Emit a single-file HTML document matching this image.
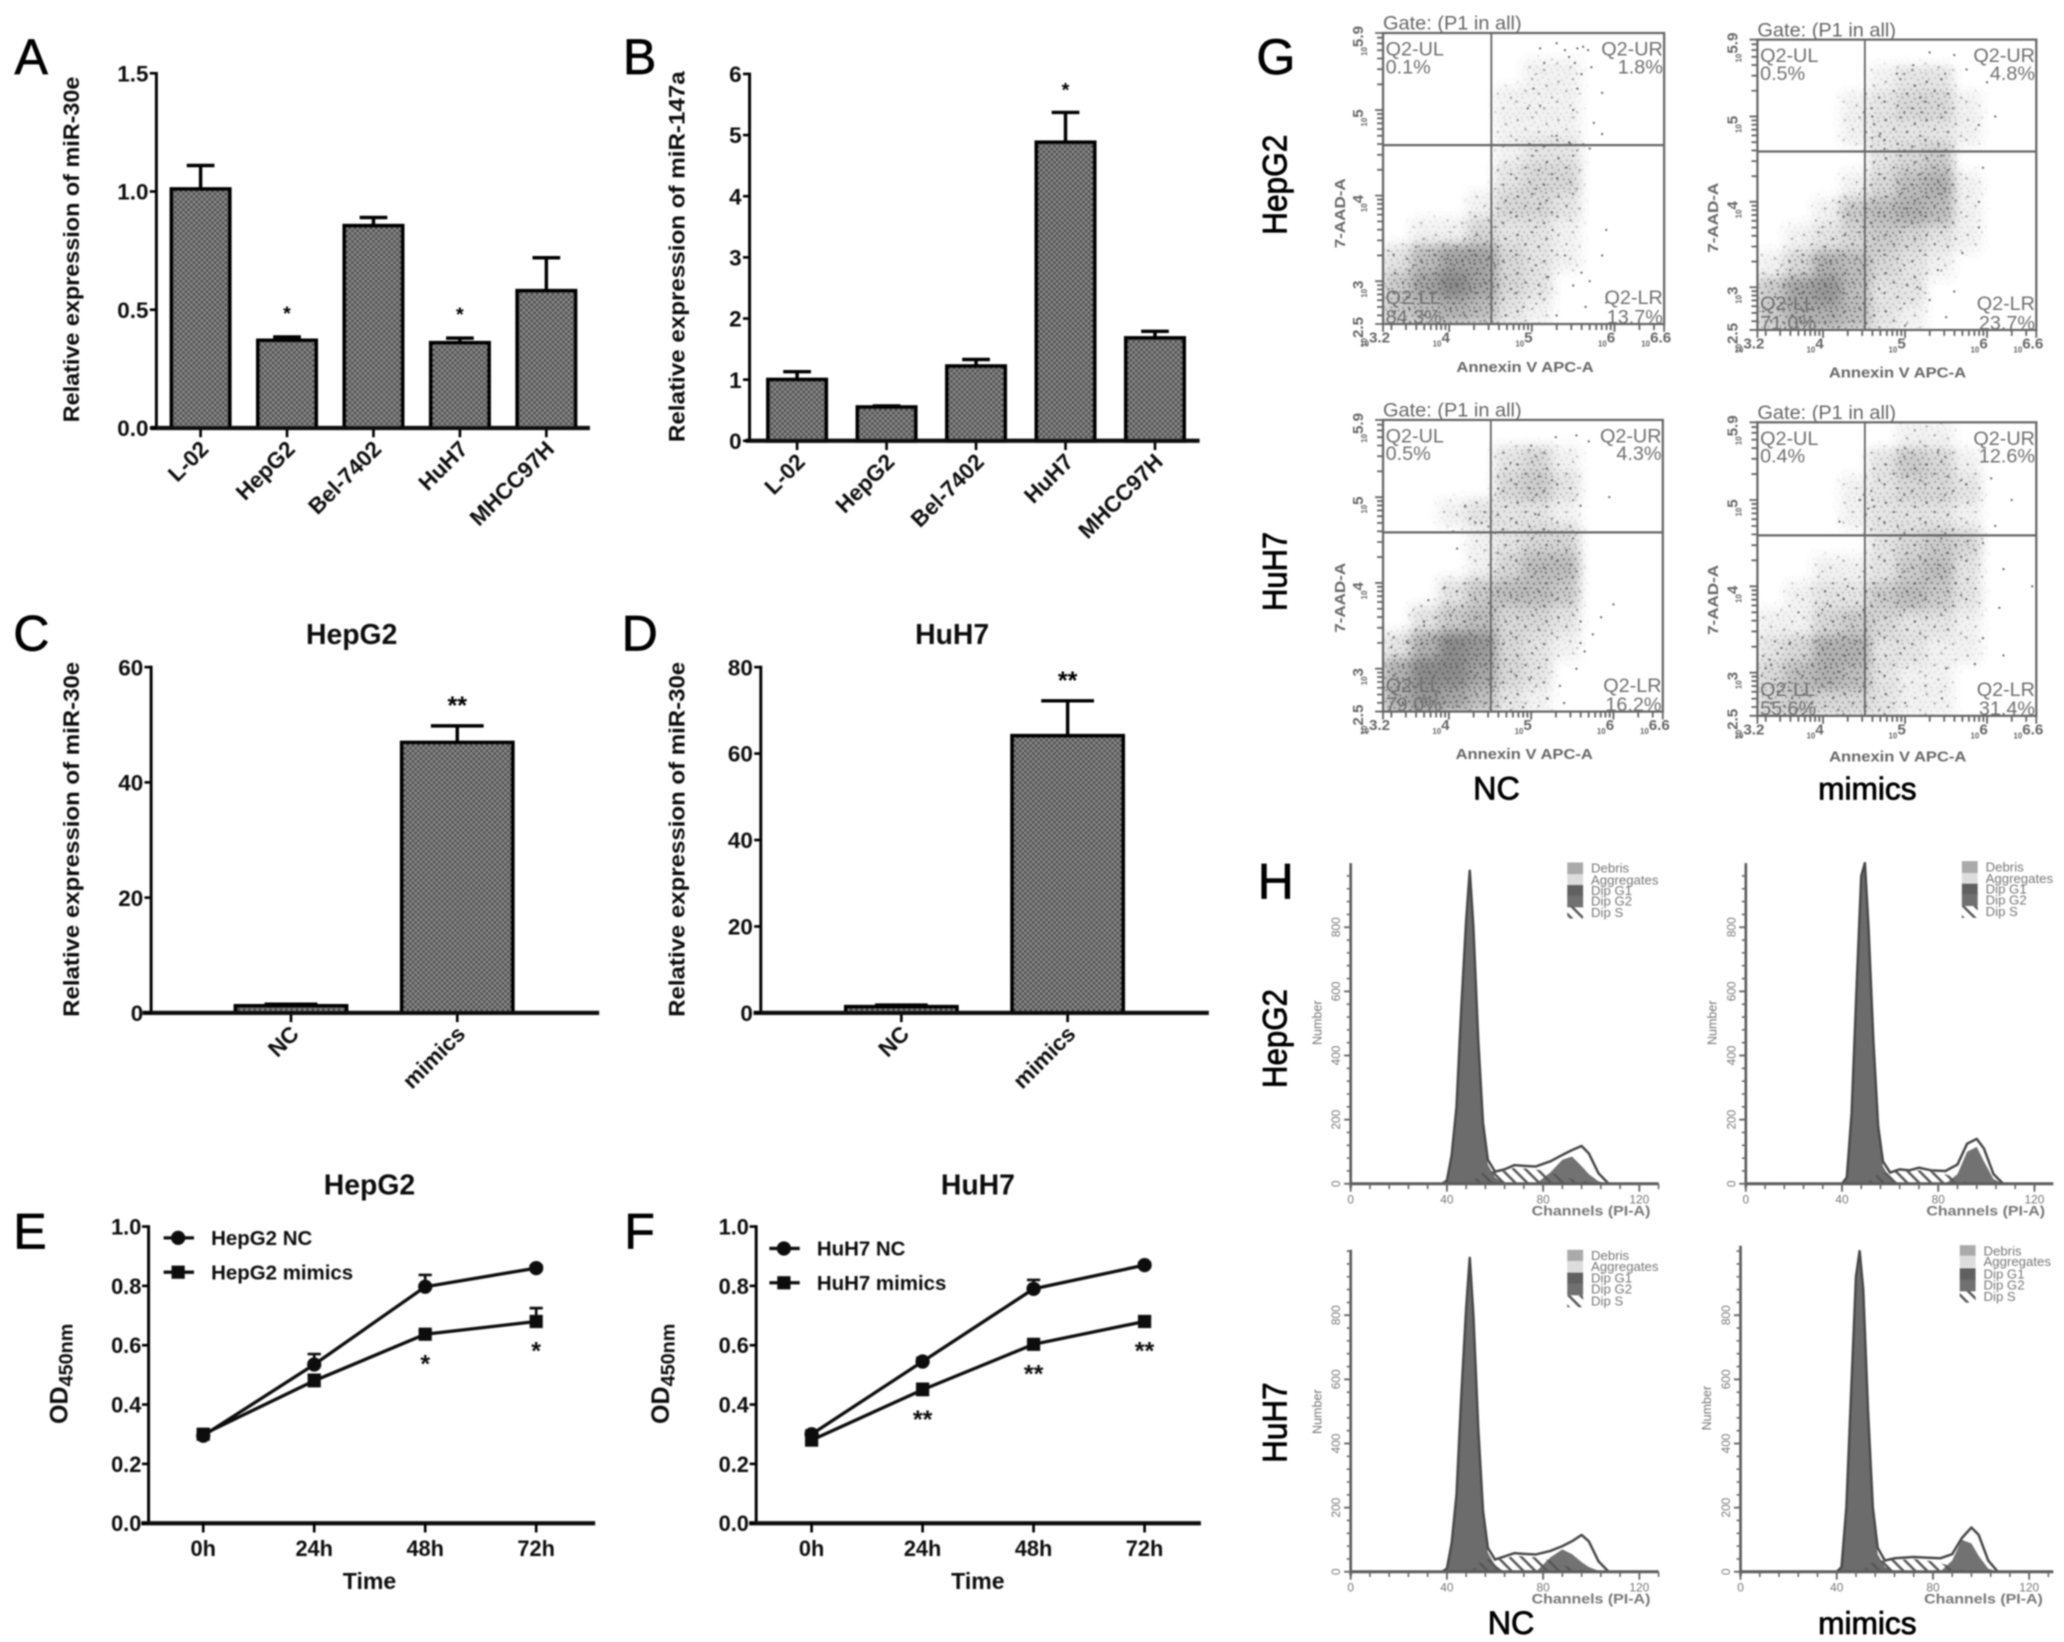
<!DOCTYPE html>
<html lang="en">
<head>
<meta charset="utf-8">
<title>miR-30e figure panels A-H</title>
<style>
html,body{margin:0;padding:0;background:#fff;width:2064px;height:1642px;overflow:hidden}
svg{display:block;font-family:"Liberation Sans",Arial,sans-serif}
</style>
</head>
<body>
<svg id="figure" xmlns="http://www.w3.org/2000/svg" width="2064" height="1642" viewBox="0 0 1564 1244.2">
<defs>
<filter id="soft" filterUnits="userSpaceOnUse" x="0" y="0" width="1564" height="1245"><feGaussianBlur stdDeviation="0.55"/></filter>
<filter id="densityBlur" filterUnits="userSpaceOnUse" x="900" y="0" width="700" height="640"><feGaussianBlur stdDeviation="4"/></filter>
<pattern id="barFill" width="4" height="4" patternUnits="userSpaceOnUse">
<rect width="4" height="4" fill="#8a8a8a"/>
<rect width="2" height="2" fill="#4e4e4e"/>
<rect x="2" y="2" width="2" height="2" fill="#4e4e4e"/>
</pattern>
<pattern id="speckle" width="18" height="18" patternUnits="userSpaceOnUse">
<g fill="#5f5f5f">
<circle cx="1.5" cy="2" r=".85"/><circle cx="6.2" cy="1" r=".8"/><circle cx="11" cy="2.8" r=".85"/><circle cx="15.8" cy="1.2" r=".8"/>
<circle cx="3.6" cy="6" r=".85"/><circle cx="8.4" cy="5.2" r=".8"/><circle cx="13.4" cy="6.6" r=".85"/><circle cx="17" cy="5" r=".8"/>
<circle cx="1" cy="10" r=".8"/><circle cx="5.8" cy="9.6" r=".85"/><circle cx="10.4" cy="10.4" r=".8"/><circle cx="15" cy="9.8" r=".85"/>
<circle cx="3" cy="14" r=".85"/><circle cx="8" cy="13.6" r=".8"/><circle cx="12.6" cy="14.4" r=".85"/><circle cx="17.2" cy="13.4" r=".8"/>
<circle cx="5.4" cy="16.8" r=".8"/><circle cx="10.2" cy="17" r=".85"/><circle cx="14.8" cy="16.6" r=".8"/><circle cx="1.2" cy="17.2" r=".8"/>
</g>
</pattern>
<pattern id="speckleSparse" width="31" height="29" patternUnits="userSpaceOnUse">
<g fill="#6a6a6a">
<circle cx="3" cy="4" r=".95"/><circle cx="14" cy="2" r=".9"/><circle cx="25" cy="7" r=".95"/>
<circle cx="9" cy="11" r=".9"/><circle cx="19" cy="13" r=".95"/><circle cx="29" cy="16" r=".9"/>
<circle cx="2" cy="19" r=".95"/><circle cx="12" cy="22" r=".9"/><circle cx="23" cy="24" r=".95"/><circle cx="17" cy="27" r=".85"/>
</g>
</pattern>
<pattern id="hatch" width="9" height="9" patternUnits="userSpaceOnUse">
<path d="M-1,-1 L10,10 M-1,8 L1,10 M8,-1 L10,1" stroke="#555" stroke-width="1.9" fill="none"/>
</pattern>
</defs>
<rect x="0" y="0" width="1564" height="1245" fill="#fff"/>
<g id="root" filter="url(#soft)">
<g font-size="38" fill="#000" stroke="#000" stroke-width=".5">
<text x="11" y="56">A</text>
<text x="472" y="56">B</text>
<text x="10" y="493">C</text>
<text x="471" y="493">D</text>
<text x="10" y="946">E</text>
<text x="473" y="946">F</text>
<text x="952" y="56">G</text>
<text x="953" y="681">H</text>
</g>
<g font-size="26" fill="#000" text-anchor="middle" stroke="#000" stroke-width=".6">
<text transform="translate(975,140) rotate(-90)" textLength="76" lengthAdjust="spacingAndGlyphs">HepG2</text>
<text transform="translate(975,433) rotate(-90)" textLength="60" lengthAdjust="spacingAndGlyphs">HuH7</text>
<text x="1134" y="606" font-size="24.5">NC</text>
<text x="1415" y="606" font-size="24">mimics</text>
<text transform="translate(975,787) rotate(-90)" textLength="75" lengthAdjust="spacingAndGlyphs">HepG2</text>
<text transform="translate(975,1078) rotate(-90)" textLength="61" lengthAdjust="spacingAndGlyphs">HuH7</text>
<text x="1145" y="1238" font-size="24.5">NC</text>
<text x="1415" y="1238" font-size="24">mimics</text>
</g>
</g>
</svg>
<script>
/* ---------- Panel A ---------- */
const aCategories = ['L-02', 'HepG2', 'Bel-7402', 'HuH7', 'MHCC97H'];
const aValues = [1.01, 0.37, 0.855, 0.36, 0.58];
const aErrorTops = [1.11, 0.385, 0.89, 0.38, 0.72];
const aStars = ['', '*', '', '*', ''];
const aTicks = ['0.0', '0.5', '1.0', '1.5'];
/* ---------- Panel B ---------- */
const bCategories = ['L-02', 'HepG2', 'Bel-7402', 'HuH7', 'MHCC97H'];
const bValues = [1.0, 0.55, 1.22, 4.88, 1.68];
const bErrorTops = [1.13, 0.57, 1.33, 5.37, 1.79];
const bStars = ['', '', '', '*', ''];
const bTicks = ['0', '1', '2', '3', '4', '5', '6'];
/* ---------- Panel C ---------- */
const cCategories = ['NC', 'mimics'];
const cValues = [1.2, 46.9];
const cErrorTops = [1.5, 49.8];
const cStars = ['', '**'];
const cTicks = ['0', '20', '40', '60'];
/* ---------- Panel D ---------- */
const dCategories = ['NC', 'mimics'];
const dValues = [1.4, 64.1];
const dErrorTops = [1.8, 72.2];
const dStars = ['', '**'];
const dTicks = ['0', '20', '40', '60', '80'];
/* ---------- Panels E, F ---------- */
const timeLabels = ['0h', '24h', '48h', '72h'];
const odTicks = ['0.0', '0.2', '0.4', '0.6', '0.8', '1.0'];
const eNC = [0.295, 0.535, 0.797, 0.86];
const eNCErr = [0.012, 0.035, 0.04, 0.008];
const eMimics = [0.30, 0.48, 0.637, 0.68];
const eMimicsErr = [0.012, 0.02, 0.012, 0.045];
const eStars = ['', '', '*', '*'];
const fNC = [0.30, 0.545, 0.79, 0.87];
const fNCErr = [0.012, 0.012, 0.03, 0.008];
const fMimics = [0.28, 0.45, 0.603, 0.68];
const fMimicsErr = [0.02, 0.02, 0.012, 0.015];
const fStars = ['', '**', '**', '**'];
/* ---------- Panel G: flow cytometry ---------- */
const flowXTicks = ['3.2', '4', '5', '6', '6.6'];
const flowYTicks = ['2.5', '3', '4', '5', '5.9'];
const g1Density = ['0000000000','0000011000','0000111000','0000111000','0000122000','0000233000','0001332000','0113221000','2577321000','4797320000','4565210000'];
const g2Density = ['0000000000','0000122000','0001233100','0001222100','0000234000','0001356100','0014565100','0123432100','1365321000','4785220000','4665210000'];
const g3Density = ['0000000000','0000231000','0000342000','0012221000','0001233000','0001355000','0024554000','0245332000','2698321000','6997320000','6875210000'];
const g4Density = ['0000011000','0000243100','0001233200','0001222100','0000234300','0011245200','0122454200','1134322100','2366221100','3565211000','3433211000'];
const g1Dots = [[5.02,5.25],[5.1,5.05],[4.95,5.02],[5.15,5.55],[5.1,5.72],[5.3,5.78],[5.4,5.7],[5.55,5.72],[5.62,5.74],[5.68,5.7],[5.45,5.62],[5.52,5.55],[5.6,5.42],[5.72,5.5],[5.85,5.2],[5.55,5.25],[5.5,5.0],[5.75,4.85],[5.85,4.72],[5.3,4.7],[5.45,4.62],[5.62,4.6],[5.7,4.55],[5.1,3.9],[5.25,3.6],[5.4,3.3],[5.6,3.1],[5.85,3.3],[5.9,3.6],[5.7,3.0],[5.5,2.95],[5.2,3.05],[5.65,2.7],[5.9,2.75],[5.3,2.6],[4.9,2.7],[5.1,2.85]];
const g2Dots = [[4.6,5.0],[4.6,4.75],[4.9,5.5],[5.1,5.6],[5.3,5.75],[5.6,5.72],[5.75,5.55],[6.0,5.4],[6.1,5.0],[5.9,4.9],[5.2,5.05],[4.75,4.62],[4.7,4.8],[5.95,4.4],[5.9,4.0],[5.9,3.7],[5.7,3.4],[5.4,3.2],[5.3,2.85],[5.6,2.95],[5.5,2.65],[5.0,2.55],[5.15,3.0],[4.2,4.0],[4.3,3.85],[3.75,3.3],[3.6,3.2],[3.45,3.15]];
const g3Dots = [[4.2,4.9],[4.05,4.6],[4.4,4.7],[4.6,5.1],[4.75,5.4],[5.0,5.6],[5.3,5.7],[5.55,5.72],[5.7,5.65],[5.95,5.0],[5.6,4.9],[5.05,4.8],[4.1,4.4],[3.95,3.95],[3.75,3.8],[3.7,3.5],[3.5,3.3],[3.3,3.25],[6.0,3.75],[5.65,3.2],[5.55,3.0],[5.35,2.8],[5.0,2.9],[5.2,2.65],[5.4,2.6],[4.75,2.6],[4.9,2.55],[5.6,3.3],[5.75,3.4],[5.6,3.55],[5.85,3.6]];
const g4Dots = [[4.6,5.0],[4.45,5.0],[4.2,4.75],[4.55,4.9],[5.0,5.6],[5.4,5.55],[6.05,5.25],[6.3,5.0],[6.1,4.7],[5.95,4.5],[6.2,4.2],[6.55,4.0],[6.15,3.75],[5.95,3.4],[5.85,3.1],[5.5,3.05],[5.25,2.85],[5.45,2.7],[5.0,2.65],[4.8,2.6],[4.3,4.0],[4.05,3.8],[3.7,3.7],[3.6,3.35],[3.35,3.15],[3.3,3.05],[6.2,3.2]];
const g1Percents = ['0.1%', '1.8%', '84.3%', '13.7%'];
const g2Percents = ['0.5%', '4.8%', '71.0%', '23.7%'];
const g3Percents = ['0.5%', '4.3%', '79.0%', '16.2%'];
const g4Percents = ['0.4%', '12.6%', '55.6%', '31.4%'];
const annexinGate = 4.51;
const aadGate = 4.59;
/* ---------- Panel H: cell cycle histograms ---------- */
const channels = [38, 40, 42, 44, 46, 48, 49.5, 51, 53, 55, 57, 60, 64, 68, 72, 77, 83, 88, 92, 96, 99, 103, 107];
const h1Total = [0, 10, 90, 240, 550, 820, 976, 800, 450, 190, 75, 38, 45, 58, 56, 54, 70, 90, 105, 118, 95, 33, 2];
const h1G1 = [0, 10, 90, 240, 550, 820, 976, 800, 450, 190, 60, 20, 0, 0, 0, 0, 0, 0, 0, 0, 0, 0, 0];
const h1S = [0, 0, 0, 0, 0, 0, 0, 10, 25, 35, 40, 38, 40, 50, 48, 45, 35, 25, 15, 10, 5, 2, 0];
const h1G2 = [0, 0, 0, 0, 0, 0, 0, 0, 0, 0, 0, 0, 0, 0, 0, 0, 35, 75, 85, 55, 30, 8, 0];
const h2Total = [0, 0, 20, 220, 600, 960, 1000, 800, 450, 180, 70, 35, 45, 42, 50, 42, 40, 60, 125, 140, 110, 30, 0];
const h2G1 = [0, 0, 20, 220, 600, 960, 1000, 800, 450, 180, 55, 15, 0, 0, 0, 0, 0, 0, 0, 0, 0, 0, 0];
const h2S = [0, 0, 0, 0, 0, 0, 0, 8, 20, 30, 35, 35, 40, 38, 42, 38, 30, 15, 5, 0, 0, 0, 0];
const h2G2 = [0, 0, 0, 0, 0, 0, 0, 0, 0, 0, 0, 0, 0, 0, 0, 0, 0, 30, 100, 115, 70, 15, 0];
const h3Total = [0, 10, 90, 240, 550, 820, 979, 800, 450, 190, 75, 38, 48, 58, 56, 54, 65, 80, 95, 115, 95, 33, 2];
const h3G1 = [0, 10, 90, 240, 550, 820, 979, 800, 450, 190, 60, 20, 0, 0, 0, 0, 0, 0, 0, 0, 0, 0, 0];
const h3S = [0, 0, 0, 0, 0, 0, 0, 10, 25, 35, 40, 38, 40, 50, 48, 45, 35, 22, 12, 6, 3, 1, 0];
const h3G2 = [0, 0, 0, 0, 0, 0, 0, 0, 0, 0, 0, 0, 0, 0, 0, 0, 45, 70, 55, 30, 15, 3, 0];
const h4Total = [0, 0, 15, 200, 560, 920, 1000, 880, 500, 200, 75, 35, 42, 44, 46, 44, 42, 55, 105, 138, 115, 35, 0];
const h4G1 = [0, 0, 15, 200, 560, 920, 1000, 880, 500, 200, 55, 15, 0, 0, 0, 0, 0, 0, 0, 0, 0, 0, 0];
const h4S = [0, 0, 0, 0, 0, 0, 0, 8, 20, 30, 35, 35, 38, 38, 40, 36, 28, 14, 5, 0, 0, 0, 0];
const h4G2 = [0, 0, 0, 0, 0, 0, 0, 0, 0, 0, 0, 0, 0, 0, 0, 0, 0, 35, 100, 88, 50, 10, 0];
const histXTicks = ['0', '40', '80', '120'];
const histYTicks = ['0', '200', '400', '600', '800'];
const histLegend = ['Debris', 'Aggregates', 'Dip G1', 'Dip G2', 'Dip S'];
const histLegendFills = ['#aaaaaa', '#dddddd', '#606060', '#707070', 'url(#hatch)'];

const NS = 'http://www.w3.org/2000/svg';
const root = document.getElementById('root');
const defs = document.querySelector('#figure defs');

function add(tag, attrs, parent, text) {
  const el = document.createElementNS(NS, tag);
  for (const k in attrs) el.setAttribute(k, attrs[k]);
  if (text !== undefined) el.textContent = text;
  parent.appendChild(el);
  return el;
}
function linear(d0, d1, r0, r1) {
  return v => r0 + (v - d0) / (d1 - d0) * (r1 - r0);
}

/* ---------- bar charts ---------- */
function drawBars(c) {
  const g = add('g', {}, root);
  
  
  const y = linear(0, c.max, c.zero, c.top);
  const x = i => c.first + i * c.step;

  c.values.forEach((v, i) => {
    const err = add('path', {
      d: 'M' + x(i) + ',' + y(v) + ' V' + y(c.errs[i]) + ' M' + (x(i) - c.cap / 2) + ',' + y(c.errs[i]) + ' H' + (x(i) + c.cap / 2),
      stroke: '#000', 'stroke-width': 2.6, fill: 'none'
    }, g);
    
    
    const bar = add('rect', {
      x: x(i) - c.barW / 2, y: y(v), width: c.barW, height: Math.max(0, c.zero - y(v)),
      fill: 'url(#barFill)', stroke: '#000', 'stroke-width': 3
    }, g);
    
    
    if (c.stars[i]) {
      const star = add('text', {
        x: x(i), y: y(c.errs[i]) - c.starDy, 'text-anchor': 'middle', 'font-size': c.starSize, 'font-weight': 'bold'
      }, g, c.stars[i]);
      
      
    }
    const tick = add('line', {x1: x(i), x2: x(i), y1: c.zero, y2: c.zero + 7, stroke: '#000', 'stroke-width': 2}, g);
    
    
    const lab = add('text', {
      transform: 'translate(' + (x(i) + 7) + ',' + (c.zero + 17) + ') rotate(-45)',
      'text-anchor': 'end', 'font-size': 17, 'font-weight': 'bold', fill: '#111'
    }, g, c.cats[i]);
    
    
  });

  const yAxis = add('line', {x1: c.axisX, x2: c.axisX, y1: c.top - 1, y2: c.zero, stroke: '#000', 'stroke-width': 2.2}, g);
  
  
  const xAxis = add('line', {x1: c.xLeft, x2: c.xRight, y1: c.zero, y2: c.zero, stroke: '#111', 'stroke-width': 3.2}, g);
  
  

  c.ticks.forEach(t => {
    const ty = y(parseFloat(t));
    const tick = add('line', {x1: c.axisX - 5, x2: c.axisX, y1: ty, y2: ty, stroke: '#000', 'stroke-width': 2}, g);
    
    
    const lab = add('text', {
      x: c.axisX - 6, y: ty + 6.2, 'text-anchor': 'end', 'font-size': 17, 'font-weight': 'bold', fill: '#111'
    }, g, t);
    
    
  });

  const yTitle = add('text', {
    transform: 'translate(' + c.titleX + ',' + c.titleY + ') rotate(-90)', 'text-anchor': 'middle',
    'font-size': 17, 'font-weight': 'bold', fill: '#111', textLength: c.titleLen, lengthAdjust: 'spacingAndGlyphs'
  }, g, c.yTitle);
  
  

  if (c.title) {
    const title = add('text', {
      x: c.title[1], y: 488, 'text-anchor': 'middle', 'font-size': 21.5, 'font-weight': 'bold', fill: '#111'
    }, g, c.title[0]);
    
    
  }
}

drawBars({cats: aCategories, values: aValues, errs: aErrorTops, stars: aStars, ticks: aTicks, max: 1.5, top: 55.5, zero: 324.3,
  first: 152, step: 65.5, barW: 44, cap: 21, axisX: 118.5, xLeft: 114, xRight: 447, starSize: 15, starDy: 13,
  yTitle: 'Relative expression of miR-30e', titleX: 60, titleY: 189, titleLen: 262});
drawBars({cats: bCategories, values: bValues, errs: bErrorTops, stars: bStars, ticks: bTicks, max: 6, top: 56, zero: 334,
  first: 604, step: 67.8, barW: 44, cap: 21, axisX: 568, xLeft: 565, xRight: 909, starSize: 15, starDy: 12,
  yTitle: 'Relative expression of miR-147a', titleX: 518.5, titleY: 194.5, titleLen: 281});
drawBars({cats: cCategories, values: cValues, errs: cErrorTops, stars: cStars, ticks: cTicks, max: 60, top: 505.5, zero: 767.5,
  first: 220.5, step: 126, barW: 84, cap: 40, axisX: 114.5, xLeft: 108, xRight: 454, starSize: 19, starDy: 9,
  yTitle: 'Relative expression of miR-30e', titleX: 60, titleY: 636, titleLen: 269, title: ['HepG2', 266.5]});
drawBars({cats: dCategories, values: dValues, errs: dErrorTops, stars: dStars, ticks: dTicks, max: 80, top: 505.5, zero: 767.5,
  first: 683, step: 126, barW: 84, cap: 40, axisX: 576.5, xLeft: 571, xRight: 916, starSize: 19, starDy: 9,
  yTitle: 'Relative expression of miR-30e', titleX: 518.5, titleY: 636, titleLen: 269, title: ['HuH7', 721.5]});

/* ---------- line charts ---------- */
function drawLines(c) {
  const g = add('g', {}, root);
  
  
  const top = 929.4, zero = 1154.2;
  const y = linear(0, 1, zero, top);
  const x = i => c.first + i * c.step;

  const yAxis = add('line', {x1: c.axisX, x2: c.axisX, y1: top - 1, y2: zero, stroke: '#000', 'stroke-width': 2.2}, g);
  
  
  const xAxis = add('line', {x1: c.xLeft, x2: c.xRight, y1: zero, y2: zero, stroke: '#111', 'stroke-width': 3.2}, g);
  
  

  odTicks.forEach(t => {
    const ty = y(parseFloat(t));
    const tick = add('line', {x1: c.axisX - 5, x2: c.axisX, y1: ty, y2: ty, stroke: '#000', 'stroke-width': 2}, g);
    
    
    const lab = add('text', {x: c.axisX - 5.5, y: ty + 6, 'text-anchor': 'end', 'font-size': 16.5, 'font-weight': 'bold', fill: '#111'}, g, t);
    
    
  });
  timeLabels.forEach((t, i) => {
    const tick = add('line', {x1: x(i), x2: x(i), y1: zero, y2: zero + 7, stroke: '#000', 'stroke-width': 2}, g);
    
    
    const lab = add('text', {x: x(i), y: 1179, 'text-anchor': 'middle', 'font-size': 16.5, 'font-weight': 'bold', fill: '#111'}, g, t);
    
    
  });

  function series(vals, errs, square) {
    const path = add('path', {
      d: vals.map((v, i) => (i ? 'L' : 'M') + x(i) + ',' + y(v)).join(' '),
      fill: 'none', stroke: '#111', 'stroke-width': 2.5
    }, g);
    
    
    vals.forEach((v, i) => {
      const err = add('path', {
        d: 'M' + x(i) + ',' + y(v) + ' V' + y(v + errs[i]) + ' M' + (x(i) - 5) + ',' + y(v + errs[i]) + ' H' + (x(i) + 5),
        stroke: '#111', 'stroke-width': 2, fill: 'none'
      }, g);
      
      
      const m = square
        ? add('rect', {x: x(i) - 5, y: y(v) - 5, width: 10, height: 10, fill: '#111'}, g)
        : add('circle', {cx: x(i), cy: y(v), r: 5.4, fill: '#111'}, g);
      
      
    });
  }
  series(c.nc, c.ncErr, false);
  series(c.mim, c.mimErr, true);

  c.stars.forEach((s, i) => {
    if (!s) return;
    const st = add('text', {x: x(i), y: y(c.mim[i]) + 29, 'text-anchor': 'middle', 'font-size': 19, 'font-weight': 'bold', fill: '#111'}, g, s);
    
    
  });

  [[c.legend[0], c.legY[0], false], [c.legend[1], c.legY[1], true]].forEach(e => {
    const ln = add('line', {x1: c.legX - 11, x2: c.legX + 12, y1: e[1], y2: e[1], stroke: '#111', 'stroke-width': 2.5}, g);
    
    
    const mk = e[2]
      ? add('rect', {x: c.legX - 5, y: e[1] - 5, width: 10, height: 10, fill: '#111'}, g)
      : add('circle', {cx: c.legX, cy: e[1], r: 5.4, fill: '#111'}, g);
    
    
    const tx = add('text', {x: c.legX + 25, y: e[1] + 5.5, 'font-size': 15.5, 'font-weight': 'bold', fill: '#111'}, g, e[0]);
    
    
  });

  const title = add('text', {x: c.titleX, y: 905, 'text-anchor': 'middle', 'font-size': 21.5, 'font-weight': 'bold', fill: '#111'}, g, c.title);
  
  
  const xt = add('text', {x: c.titleX, y: 1204, 'text-anchor': 'middle', 'font-size': 17.5, 'font-weight': 'bold', fill: '#111'}, g, 'Time');
  
  
  const yt = add('text', {transform: 'translate(' + c.odX + ',1041) rotate(-90)', 'text-anchor': 'middle', 'font-size': 19, 'font-weight': 'bold', fill: '#111'}, g);
  
  
  add('tspan', {}, yt, 'OD');
  add('tspan', {dy: 4, 'font-size': 15}, yt, '450nm');
}

drawLines({nc: eNC, ncErr: eNCErr, mim: eMimics, mimErr: eMimicsErr, stars: eStars, first: 154, step: 84.1,
  axisX: 112.6, xLeft: 107, xRight: 451, legend: ['HepG2 NC', 'HepG2 mimics'], legX: 135, legY: [938, 964],
  title: 'HepG2', titleX: 280, odX: 51});
drawLines({nc: fNC, ncErr: fNCErr, mim: fMimics, mimErr: fMimicsErr, stars: fStars, first: 615, step: 84.1,
  axisX: 573, xLeft: 567.6, xRight: 910, legend: ['HuH7 NC', 'HuH7 mimics'], legX: 594, legY: [946, 972],
  title: 'HuH7', titleX: 741, odX: 507});

/* ---------- flow cytometry plots ---------- */
let flowCount = 0;
function drawFlow(c) {
  flowCount++;
  const g = add('g', {}, root);
  
  
  const X = linear(3.2, 6.6, c.left, c.right);
  const Y = linear(2.5, 5.9, c.bottom, c.top);
  const W = c.right - c.left, H = c.bottom - c.top;
  const rows = c.density.length, cols = c.density[0].length;
  const gray = '#6e6e6e';

  function makeMask(suffix, fn) {
    const m = add('mask', {id: 'flow' + flowCount + suffix, maskUnits: 'userSpaceOnUse', x: c.left, y: c.top, width: W, height: H}, defs);
    const mg = add('g', {filter: 'url(#densityBlur)'}, m);
    c.density.forEach((row, r) => {
      row.split('').forEach((d, k) => {
        const v = Number(d);
        if (v > 0) add('rect', {x: c.left + k * W / cols, y: c.top + r * H / rows, width: W / cols + .5, height: H / rows + .5, fill: '#fff', opacity: fn(v)}, mg);
      });
    });
  }
  makeMask('s', v => v / 9);
  makeMask('d', v => Math.min(1, v / 9 * 1.3));
  makeMask('p', v => Math.min(1, v * 0.55));
  const solid = add('rect', {x: c.left, y: c.top, width: W, height: H, fill: gray, opacity: .8, mask: 'url(#flow' + flowCount + 's)'}, g);
  
  
  const sparse = add('rect', {x: c.left, y: c.top, width: W, height: H, fill: 'url(#speckleSparse)', mask: 'url(#flow' + flowCount + 'p)'}, g);
  
  
  const spk = add('rect', {x: c.left, y: c.top, width: W, height: H, fill: 'url(#speckle)', mask: 'url(#flow' + flowCount + 'd)'}, g);
  
  
  c.dots.forEach(p => {
    const dot = add('circle', {cx: X(p[0]), cy: Y(p[1]), r: .85, fill: '#666'}, g);
    
    
  });

  const box = add('rect', {x: c.left, y: c.top, width: W, height: H, fill: 'none', stroke: '#666', 'stroke-width': 1.7}, g);
  
  
  const gv = add('line', {x1: X(annexinGate), x2: X(annexinGate), y1: c.top, y2: c.bottom, stroke: '#666', 'stroke-width': 1.4}, g);
  
  
  const gh = add('line', {x1: c.left, x2: c.right, y1: Y(aadGate), y2: Y(aadGate), stroke: '#666', 'stroke-width': 1.7}, g);
  
  

  let dx = '', dy = '';
  [2, 3, 4, 5, 6].forEach(dec => {
    [1, 2, 3, 4, 5, 6, 7, 8, 9].forEach(k => {
      const v = dec + Math.log10(k);
      const len = k === 1 ? 6 : 4.5;
      if (v >= 3.2 && v <= 6.6) dx += 'M' + X(v) + ',' + c.bottom + ' v' + len + ' ';
      if (v >= 2.5 && v <= 5.9) dy += 'M' + c.left + ',' + Y(v) + ' h-' + len + ' ';
    });
  });
  const xt = add('path', {d: dx + 'M' + X(6.6) + ',' + c.bottom + ' v6 M' + X(3.2) + ',' + c.bottom + ' v6', stroke: '#666', 'stroke-width': 1.4, fill: 'none'}, g);
  
  
  const yt = add('path', {d: dy + 'M' + c.left + ',' + Y(2.5) + ' h-6 M' + c.left + ',' + Y(5.9) + ' h-6', stroke: '#666', 'stroke-width': 1.4, fill: 'none'}, g);
  
  

  flowXTicks.forEach(t => {
    const lab = add('text', {x: X(parseFloat(t)) - 6, y: c.bottom + 17, 'font-size': 6, 'font-weight': 'bold', fill: '#666', 'text-anchor': 'middle'}, g);
    
    
    add('tspan', {}, lab, '10');
    add('tspan', {dy: -3, 'font-size': 11.5}, lab, t);
  });
  flowYTicks.forEach(t => {
    const lab = add('text', {transform: 'translate(' + (c.left - 12) + ',' + (Y(parseFloat(t)) + 6) + ') rotate(-90)', 'font-size': 6, 'font-weight': 'bold', fill: '#666', 'text-anchor': 'middle'}, g);
    
    
    add('tspan', {}, lab, '10');
    add('tspan', {dy: -3, 'font-size': 11.5}, lab, t);
  });

  const gate = add('text', {x: c.left, y: c.top - 2.5, 'font-size': 15, fill: '#666', textLength: 105, lengthAdjust: 'spacingAndGlyphs'}, g, 'Gate: (P1 in all)');
  
  

  const qNames = ['Q2-UL', 'Q2-UR', 'Q2-LL', 'Q2-LR'];
  qNames.forEach((q, i) => {
    const right = i % 2 === 1;
    const low = i >= 2;
    const qx = right ? c.right - 1 : c.left + 2;
    const anchor = right ? 'end' : 'start';
    const y1 = low ? c.bottom - 15 : c.top + 17;
    const y2 = low ? c.bottom - .5 : c.top + 30.5;
    const name = add('text', {x: qx, y: y1, 'font-size': 15, fill: '#707070', 'text-anchor': anchor}, g, q);
    
    
    const pct = add('text', {x: qx, y: y2, 'font-size': 15, fill: '#707070', 'text-anchor': anchor}, g, c.percents[i]);
    
    
  });

  const xTitle = add('text', {x: c.annexX, y: c.annexY, 'text-anchor': 'middle', 'font-size': 11.5, 'font-weight': 'bold', fill: '#666', textLength: 104, lengthAdjust: 'spacingAndGlyphs'}, g, 'Annexin V APC-A');
  
  
  const yTitle = add('text', {transform: 'translate(' + c.aadX + ',' + c.aadY + ') rotate(-90)', 'text-anchor': 'middle', 'font-size': 11.5, 'font-weight': 'bold', fill: '#666', textLength: 53, lengthAdjust: 'spacingAndGlyphs'}, g, '7-AAD-A');
  
  
}

drawFlow({left: 1048, right: 1261, top: 25, bottom: 245.5, density: g1Density, dots: g1Dots, percents: g1Percents, annexX: 1155.6, annexY: 282, aadX: 1019, aadY: 161.6});
drawFlow({left: 1331.7, right: 1543, top: 30, bottom: 250, density: g2Density, dots: g2Dots, percents: g2Percents, annexX: 1437.8, annexY: 286, aadX: 1302, aadY: 165});
drawFlow({left: 1048, right: 1260, top: 318.2, bottom: 539.2, density: g3Density, dots: g3Dots, percents: g3Percents, annexX: 1155, annexY: 575, aadX: 1019, aadY: 453});
drawFlow({left: 1331.7, right: 1543, top: 320, bottom: 542.4, density: g4Density, dots: g4Dots, percents: g4Percents, annexX: 1438, annexY: 577, aadX: 1302, aadY: 454.6});

/* ---------- cell-cycle histograms ---------- */
function drawHist(c) {
  const g = add('g', {}, root);
  
  
  const X = linear(0, 40, c.axisX, c.axisX + 72.9);
  const Y = linear(0, 200, c.zero, c.zero - 48.6);
  const area = vals => 'M' + X(channels[0]) + ',' + Y(0) + ' ' + channels.map((ch, i) => 'L' + X(ch) + ',' + Y(vals[i])).join(' ') + ' L' + X(channels[channels.length - 1]) + ',' + Y(0) + ' Z';
  const line = vals => channels.map((ch, i) => (i ? 'L' : 'M') + X(ch) + ',' + Y(vals[i])).join(' ');

  const g1 = add('path', {d: area(c.g1), fill: '#6c6c6c'}, g);
  
  
  const g2 = add('path', {d: area(c.g2), fill: '#727272'}, g);
  
  
  const s = add('path', {d: area(c.s), fill: 'url(#hatch)'}, g);
  
  
  const outline = add('path', {d: line(c.total), fill: 'none', stroke: '#484848', 'stroke-width': 1.9, 'stroke-linejoin': 'round'}, g);
  
  

  const xAxis = add('line', {x1: c.axisX, x2: c.xEnd, y1: c.zero, y2: c.zero, stroke: '#5c5c5c', 'stroke-width': 2.3}, g);
  
  
  const yAxis = add('line', {x1: c.axisX, x2: c.axisX, y1: c.yTop, y2: c.zero + 3, stroke: '#5c5c5c', 'stroke-width': 2}, g);
  
  

  let mx = '', my = '';
  for (let ch = 8; X(ch) < c.xEnd; ch += 8) mx += 'M' + X(ch) + ',' + c.zero + ' v4 ';
  for (let n = 40; Y(n) > c.yTop; n += 40) my += 'M' + (c.axisX - 3) + ',' + Y(n) + ' h3 ';
  const minorX = add('path', {d: mx, stroke: '#666', 'stroke-width': 1.2, fill: 'none'}, g);
  
  
  const minorY = add('path', {d: my, stroke: '#666', 'stroke-width': 1.2, fill: 'none'}, g);
  
  

  histXTicks.forEach(t => {
    const tk = add('line', {x1: X(+t), x2: X(+t), y1: c.zero, y2: c.zero + 6, stroke: '#666', 'stroke-width': 1.4}, g);
    
    
    const lab = add('text', {x: X(+t), y: c.zero + 15, 'text-anchor': 'middle', 'font-size': 9, fill: '#777'}, g, t);
    
    
  });
  histYTicks.forEach(t => {
    const tk = add('line', {x1: c.axisX - 5, x2: c.axisX, y1: Y(+t), y2: Y(+t), stroke: '#666', 'stroke-width': 1.4}, g);
    
    
    const lab = add('text', {transform: 'translate(' + (c.axisX - 8) + ',' + Y(+t) + ') rotate(-90)', 'text-anchor': 'middle', 'font-size': 9, fill: '#777'}, g, t);
    
    
  });

  histLegend.forEach((name, i) => {
    const sw = add('rect', {x: c.legX, y: c.legY[i] - 4.5, width: 12, height: 9, fill: histLegendFills[i]}, g);
    
    
    const tx = add('text', {x: c.legX + 18, y: c.legY[i] + 3.2, 'font-size': 10, fill: '#777'}, g, name);
    
    
  });

  const xTitle = add('text', {x: c.chanX, y: c.chanY, 'text-anchor': 'middle', 'font-size': 10.5, 'font-weight': 'bold', fill: '#777', textLength: 90, lengthAdjust: 'spacingAndGlyphs'}, g, 'Channels (PI-A)');
  
  
  const yTitle = add('text', {transform: 'translate(' + c.numX + ',' + c.numY + ') rotate(-90)', 'text-anchor': 'middle', 'font-size': 9.5, fill: '#777'}, g, 'Number');
  
  
}

drawHist({total: h1Total, g1: h1G1, s: h1S, g2: h1G2, axisX: 1023.5, zero: 897, yTop: 654, xEnd: 1256.8, legX: 1187.6, legY: [658, 667, 675, 683, 691.5], chanX: 1205.6, chanY: 921, numX: 1001.5, numY: 775});
drawHist({total: h2Total, g1: h2G1, s: h2S, g2: h2G2, axisX: 1322.9, zero: 897, yTop: 654, xEnd: 1555.9, legX: 1486.6, legY: [657, 666, 674, 682, 691], chanX: 1504.7, chanY: 921, numX: 1300.5, numY: 775});
drawHist({total: h3Total, g1: h3G1, s: h3S, g2: h3G2, axisX: 1023.5, zero: 1191, yTop: 947, xEnd: 1256.8, legX: 1187.6, legY: [951.5, 960, 968.7, 977, 986], chanX: 1205.6, chanY: 1215, numX: 1001.5, numY: 1069.7});
drawHist({total: h4Total, g1: h4G1, s: h4S, g2: h4G2, axisX: 1318.9, zero: 1191, yTop: 944, xEnd: 1555.9, legX: 1485, legY: [948, 956, 965.4, 974, 982.6], chanX: 1503, chanY: 1215, numX: 1296.5, numY: 1067});
</script>
</body>
</html>
